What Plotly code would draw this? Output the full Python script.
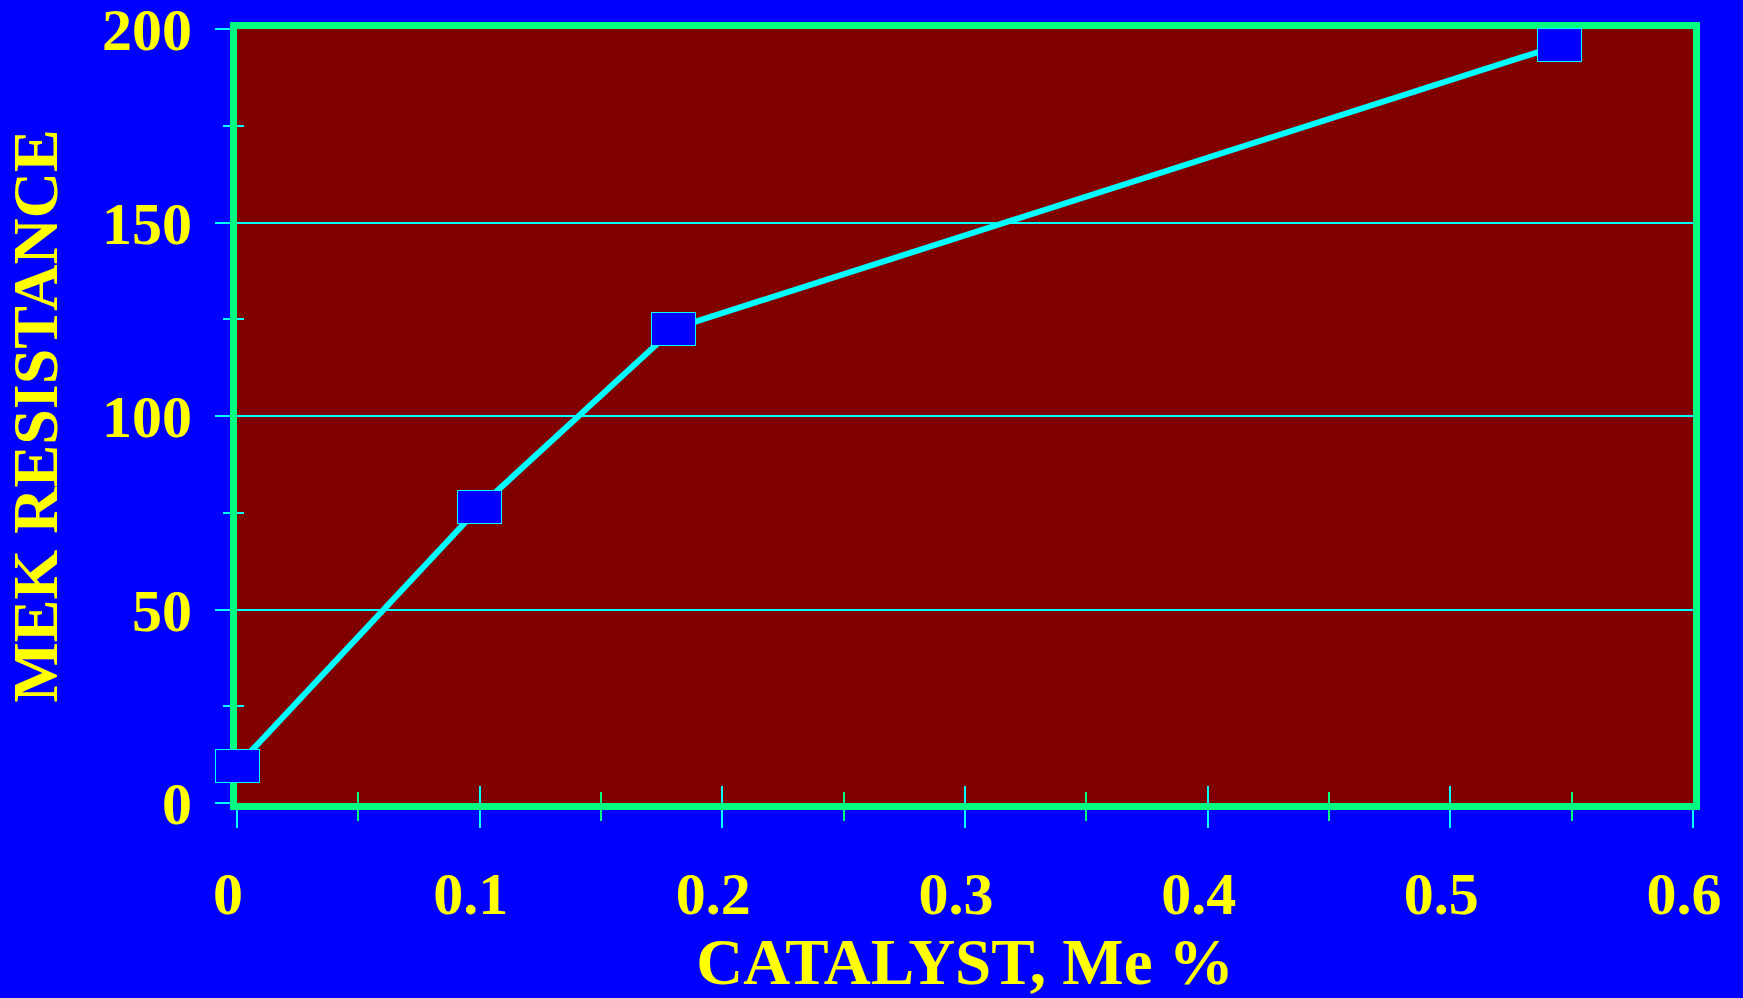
import plotly.graph_objects as go

# Data
catalyst = [0.0, 0.1, 0.18, 0.545]
mek_resistance = [9.5, 76.5, 122.6, 195.8]

x_title = "CATALYST, Me %"
y_title = "MEK RESISTANCE"
x_ticks = [0, 0.1, 0.2, 0.3, 0.4, 0.5, 0.6]
x_tick_text = ["0", "0.1", "0.2", "0.3", "0.4", "0.5", "0.6"]
y_ticks = [0, 50, 100, 150, 200]
y_tick_text = ["0", "50", "100", "150", "200"]

BLUE = "#0000FF"
MAROON = "#800000"
CYAN = "#00FFFF"
GREEN = "#00FF80"
YELLOW = "#FFFF00"
FONT = "Liberation Serif, Times New Roman, serif"

fig = go.Figure()

fig.add_trace(go.Scatter(
    x=catalyst, y=mek_resistance, mode="lines",
    line=dict(color=CYAN, width=6), cliponaxis=False,
    showlegend=False, hoverinfo="skip",
))
# helper invisible trace for the overlaid axes (inside ticks)
fig.add_trace(go.Scatter(
    x=catalyst, y=mek_resistance, mode="lines", xaxis="x2", yaxis="y2",
    line=dict(width=0), opacity=0, showlegend=False, hoverinfo="skip",
))

# rectangular markers drawn as data-anchored annotations
for xv, yv in zip(catalyst, mek_resistance):
    fig.add_annotation(
        x=xv, y=yv, xref="x", yref="y", text=" ", showarrow=False,
        width=43, height=32, bgcolor=BLUE, bordercolor=CYAN,
        borderwidth=1, borderpad=0, xanchor="center", yanchor="middle",
    )

tickfont = dict(family=FONT, size=60, color=YELLOW, weight="bold")

fig.update_layout(
    width=1743, height=998,
    paper_bgcolor=BLUE, plot_bgcolor=MAROON,
    margin=dict(l=237, r=50, t=29, b=195, autoexpand=False),
    showlegend=False,
    xaxis=dict(
        range=[0, 0.6], tickvals=x_ticks, ticktext=x_tick_text,
        ticks="outside", ticklen=18, tickwidth=2, tickcolor=CYAN,
        minor=dict(dtick=0.05, ticks="outside", ticklen=11, tickwidth=2, tickcolor=GREEN),
        showline=True, linewidth=7, linecolor=GREEN, mirror=True,
        showgrid=False, zeroline=False,
        tickfont=tickfont, ticklabelshift=-9, ticklabelstandoff=14,
        ticklabeloverflow="allow",
        title=dict(text=x_title, font=dict(family=FONT, size=65, color=YELLOW, weight="bold"), standoff=4),
        automargin=False,
    ),
    yaxis=dict(
        range=[0, 200], tickvals=y_ticks, ticktext=y_tick_text,
        ticks="outside", ticklen=15, tickwidth=2, tickcolor=CYAN,
        minor=dict(dtick=25, ticks="outside", ticklen=7, tickwidth=2, tickcolor=CYAN),
        showline=True, linewidth=7, linecolor=GREEN, mirror=True,
        showgrid=True, gridcolor=CYAN, gridwidth=2, zeroline=False,
        tickfont=tickfont, ticklabelstandoff=11,
        ticklabeloverflow="allow",
        title=dict(text=y_title, font=dict(family=FONT, size=64, color=YELLOW, weight="bold"), standoff=26),
        automargin=False,
    ),
    xaxis2=dict(
        range=[0, 0.6], overlaying="x", anchor="y2", side="bottom",
        tickvals=x_ticks, showticklabels=False,
        ticks="inside", ticklen=17, tickwidth=2, tickcolor=CYAN,
        minor=dict(dtick=0.05, ticks="inside", ticklen=11, tickwidth=2, tickcolor=GREEN),
        showline=False, showgrid=False, zeroline=False,
    ),
    yaxis2=dict(
        range=[0, 200], overlaying="y", anchor="x2", side="left",
        tickvals=y_ticks, showticklabels=False,
        ticks="inside", ticklen=15, tickwidth=2, tickcolor=CYAN,
        minor=dict(dtick=25, ticks="inside", ticklen=7, tickwidth=2, tickcolor=CYAN),
        showline=False, showgrid=False, zeroline=False,
    ),
)

fig.write_html(
    "out.html",
    config={"displayModeBar": False},
    post_script="document.body.style.margin='0';document.body.style.padding='0';document.body.style.overflow='hidden';",
)
